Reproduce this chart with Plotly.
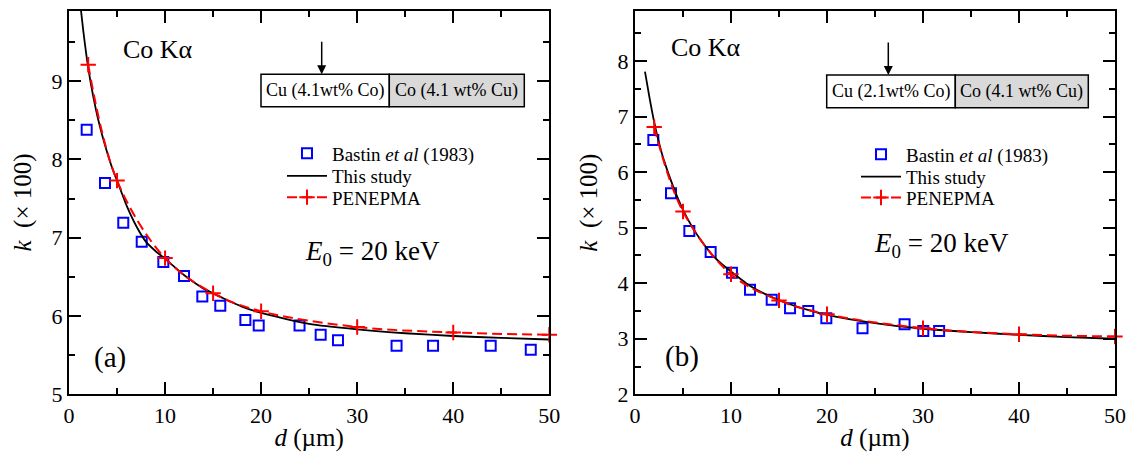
import plotly.graph_objects as go

W, H = 1131, 454
def px(x): return x / W
def py(y): return 1 - y / H

FONT = "Liberation Serif"

# ---------------- Panel (a) data ----------------
a_bastin_d = [1.84, 3.75, 5.65, 7.57, 9.82, 11.97, 13.88, 15.75, 18.36, 19.75, 24.0, 26.2, 28.0, 34.1, 37.9, 43.9, 48.07]
a_bastin_k = [8.38, 7.70, 7.19, 6.95, 6.69, 6.51, 6.25, 6.13, 5.95, 5.88, 5.88, 5.76, 5.69, 5.62, 5.62, 5.62, 5.57]

a_study_d = [1.25, 1.5, 2, 2.5, 3, 3.5, 4, 4.5, 5, 6, 7, 8, 9, 10, 12, 13, 14, 15, 16, 18, 20, 25, 30, 35, 40, 45, 50]
a_study_k = [9.9, 9.63, 9.17, 8.82, 8.53, 8.29, 8.08, 7.89, 7.73, 7.41, 7.15, 6.95, 6.83, 6.73, 6.52, 6.43, 6.35, 6.29, 6.23, 6.12, 6.04, 5.90, 5.83, 5.78, 5.745, 5.72, 5.70]

a_pen_d = [2, 5, 10, 15, 20, 30, 40, 50]
a_pen_k = [9.21, 7.73, 6.74, 6.29, 6.06, 5.86, 5.79, 5.76]

# ---------------- Panel (b) data ----------------
b_bastin_d = [1.91, 3.75, 5.66, 7.88, 10.1, 11.98, 14.24, 16.15, 18.05, 19.93, 23.7, 28.08, 30.03, 31.68]
b_bastin_k = [6.58, 5.62, 4.94, 4.56, 4.19, 3.88, 3.70, 3.55, 3.50, 3.37, 3.19, 3.26, 3.14, 3.14]

b_study_d = [1.04, 1.5, 2, 2.5, 3, 4, 5, 6, 7, 8, 9, 10, 12, 14, 16, 18, 20, 25, 30, 35, 40, 45, 50]
b_study_k = [7.81, 7.35, 6.90, 6.53, 6.22, 5.73, 5.32, 5.00, 4.74, 4.52, 4.35, 4.21, 3.95, 3.77, 3.63, 3.52, 3.43, 3.28, 3.18, 3.12, 3.07, 3.03, 3.00]

b_pen_d = [2, 5, 10, 15, 20, 30, 40, 50]
b_pen_k = [6.81, 5.29, 4.16, 3.69, 3.44, 3.19, 3.08, 3.04]

x_ticks = [0, 10, 20, 30, 40, 50]
a_y_ticks = [5, 6, 7, 8, 9]
b_y_ticks = [2, 3, 4, 5, 6, 7, 8]

names = ["Bastin <i>et al</i> (1983)", "This study", "PENEPMA"]

fig = go.Figure()

def add_panel(xa, ya, legs, bd, bk, sd, sk, pd_, pk):
    fig.add_trace(go.Scatter(x=bd, y=bk, mode="markers", name=names[0], xaxis=xa, yaxis=ya, legend=legs[0],
                             marker=dict(symbol="square-open", size=10, color="#0000ff", line=dict(width=2, color="#0000ff"))))
    fig.add_trace(go.Scatter(x=sd, y=sk, mode="lines", name=names[1], xaxis=xa, yaxis=ya, legend=legs[1],
                             line=dict(color="black", width=1.8, shape="spline", smoothing=0.6)))
    fig.add_trace(go.Scatter(x=pd_, y=pk, mode="lines+markers", name=names[2], xaxis=xa, yaxis=ya, legend=legs[2],
                             cliponaxis=False,
                             line=dict(color="#ff0000", width=2, dash="10px,5px", shape="spline", smoothing=1.0),
                             marker=dict(symbol="cross-thin", size=11, color="#ff0000", line=dict(width=2, color="#ff0000"))))

add_panel("x", "y", ["legend", "legend2", "legend3"], a_bastin_d, a_bastin_k, a_study_d, a_study_k, a_pen_d, a_pen_k)
add_panel("x2", "y2", ["legend4", "legend5", "legend6"], b_bastin_d, b_bastin_k, b_study_d, b_study_k, b_pen_d, b_pen_k)

common = dict(showline=True, linecolor="black", linewidth=2, mirror="allticks", ticks="inside",
              ticklen=12, tickwidth=2, tickcolor="black", showgrid=False, zeroline=False, automargin=False,
              tickfont=dict(family=FONT, size=22, color="black"))

xdef = dict(common, range=[0, 50], tickmode="array", tickvals=x_ticks,
            minor=dict(ticks="inside", ticklen=6, tickwidth=2, tickcolor="black", tickmode="linear", tick0=0, dtick=5),
            title=dict(text="<i>d</i> (µm)", font=dict(family=FONT, size=25, color="black"), standoff=2))

def leg(x, y):
    return dict(x=px(x), y=py(y), xanchor="left", yanchor="middle", bgcolor="rgba(0,0,0,0)",
                font=dict(family=FONT, size=19, color="black"), itemwidth=40, tracegroupgap=0)

fig.update_layout(
    width=W, height=H, margin=dict(l=0, r=0, t=0, b=0, autoexpand=False),
    paper_bgcolor="white", plot_bgcolor="white",
    xaxis=dict(xdef, domain=[px(69), px(549.3)], anchor="y"),
    xaxis2=dict(xdef, domain=[px(635), px(1115)], anchor="y2"),
    yaxis=dict(common, range=[5, 9.9], tickmode="array", tickvals=a_y_ticks, anchor="x",
               domain=[py(394.3), py(10.7)],
               minor=dict(ticks="inside", ticklen=6, tickwidth=2, tickcolor="black", tickmode="linear", tick0=5, dtick=0.5),
               title=dict(text="<i>k</i>  (× 100)", font=dict(family=FONT, size=25, color="black"), standoff=13)),
    yaxis2=dict(common, range=[2, 8.9], tickmode="array", tickvals=b_y_ticks, anchor="x2",
                domain=[py(394.3), py(11)],
                minor=dict(ticks="inside", ticklen=6, tickwidth=2, tickcolor="black", tickmode="linear", tick0=2, dtick=0.5),
                title=dict(text="<i>k</i>  (× 100)", font=dict(family=FONT, size=25, color="black"), standoff=13)),
    legend=leg(282, 153.3), legend2=leg(282, 176), legend3=leg(282, 197.3),
    legend4=leg(856, 154.3), legend5=leg(856, 176.7), legend6=leg(856, 197.7),
    showlegend=True,
)

shapes = []
annotations = []

def inset(x0, xm, x1, y0, y1, arrow_x, ltxt, rtxt):
    shapes.append(dict(type="rect", xref="paper", yref="paper", x0=px(x0), x1=px(xm), y0=py(y1), y1=py(y0),
                       fillcolor="white", line=dict(color="black", width=1.5)))
    shapes.append(dict(type="rect", xref="paper", yref="paper", x0=px(xm), x1=px(x1), y0=py(y1), y1=py(y0),
                       fillcolor="#d9d9d9", line=dict(color="black", width=1.5)))
    annotations.append(dict(xref="paper", yref="paper", x=px((x0 + xm) / 2), y=py((y0 + y1) / 2), text=ltxt,
                            xanchor="center", yanchor="middle",
                            showarrow=False, font=dict(family=FONT, size=18, color="black")))
    annotations.append(dict(xref="paper", yref="paper", x=px((xm + x1) / 2), y=py((y0 + y1) / 2), text=rtxt,
                            xanchor="center", yanchor="middle",
                            showarrow=False, font=dict(family=FONT, size=18, color="black")))
    annotations.append(dict(xref="paper", yref="paper", x=px(arrow_x), y=py(y0), ax=0, ay=-34, text="",
                            showarrow=True, arrowhead=2, arrowsize=1.2, arrowwidth=1.5, arrowcolor="black"))

inset(261, 389.3, 524.3, 74.3, 106.7, 321.7, "Cu (4.1wt% Co)", "Co (4.1 wt% Cu)")
inset(826.7, 955.3, 1088.3, 75, 107.7, 888.3, "Cu (2.1wt% Co)", "Co (4.1 wt% Cu)")

def label(x, y, text, size):
    annotations.append(dict(xref="paper", yref="paper", x=px(x), y=py(y), text=text, showarrow=False,
                            xanchor="center", yanchor="middle",
                            font=dict(family=FONT, size=size, color="black")))

label(157.5, 50, "Co Kα", 26)
label(706, 47, "Co Kα", 26)
label(110, 357, "(a)", 29)
label(681.5, 356, "(b)", 29)
label(373, 253, "<i>E</i><sub>0</sub> = 20 keV", 27)
label(941, 245, "<i>E</i><sub>0</sub> = 20 keV", 27)

fig.update_layout(shapes=shapes, annotations=annotations)

fig.write_html("out.html", config={"displayModeBar": False},
               post_script="document.body.style.margin='0px';document.body.style.padding='0px';")
